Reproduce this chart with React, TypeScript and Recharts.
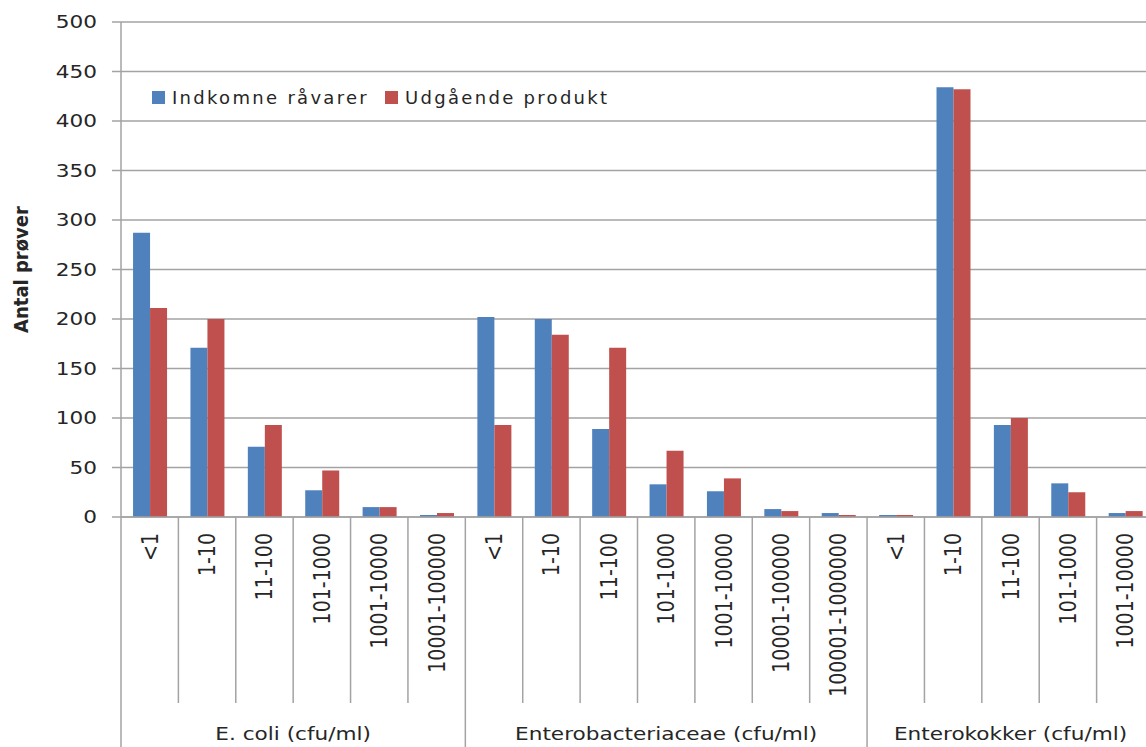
import { BarChart, Bar, XAxis, YAxis, CartesianGrid, Legend } from 'recharts';

const categories = [
  '<1', '1-10', '11-100', '101-1000', '1001-10000', '10001-100000',
  '<1', '1-10', '11-100', '101-1000', '1001-10000', '10001-100000', '100001-1000000',
  '<1', '1-10', '11-100', '101-1000', '1001-10000',
];
const groupNames = ['E. coli (cfu/ml)', 'Enterobacteriaceae (cfu/ml)', 'Enterokokker (cfu/ml)'];
const groupSizes = [6, 7, 5];
const indkomne = [287, 171, 71, 27, 10, 2, 202, 200, 89, 33, 26, 8, 4, 2, 434, 93, 34, 4];
const udgaaende = [211, 200, 93, 47, 10, 4, 93, 184, 171, 67, 39, 6, 2, 2, 432, 100, 25, 6];
const yTicks = [0, 50, 100, 150, 200, 250, 300, 350, 400, 450, 500];

const BLUE = '#4F81BD';
const RED = '#C0504D';
const GRID = '#a3a3a3';
const TEXT = '#262626';
const FONT = '"DejaVu Sans", Verdana, sans-serif';

const W = 1160;
const H = 747;
const MARGIN = { top: 22, right: 6, left: 0, bottom: 0 };
const Y_W = 121;
const X_H = 230;
const BAND = (W - MARGIN.left - MARGIN.right - Y_W) / categories.length;

const data = categories.map((c, i) => ({
  id: `${i}-${c}`,
  label: c,
  a: indkomne[i],
  b: udgaaende[i],
}));

const groupStarts = groupSizes.map((_, g) => groupSizes.slice(0, g).reduce((s, n) => s + n, 0));

// the original is stretched sideways a little, so text gets a 1.2 x-scale
const CategoryTick = (props: any) => {
  const { x, y, index } = props;
  const left = x - BAND / 2;
  const g = groupStarts.indexOf(index);
  const isStart = g >= 0;
  return (
    <g>
      <line x1={left} x2={left} y1={y} y2={isStart ? H : y + 186} stroke={GRID} strokeWidth={1.5} />
      <text
        transform={`translate(${x} ${y + 16}) rotate(-90) scale(1 1.2)`}
        textAnchor="end"
        dy="0.35em"
        fontSize={19}
        fontFamily={FONT}
        fill={TEXT}
      >
        {categories[index]}
      </text>
      {isStart && (
        <text
          transform={`translate(${left + (groupSizes[g] * BAND) / 2} ${H - 7}) scale(1.2 1)`}
          textAnchor="middle"
          fontSize={18}
          fontFamily={FONT}
          fill={TEXT}
        >
          {groupNames[g]}
        </text>
      )}
    </g>
  );
};

const ValueTick = (props: any) => {
  const { x, y, payload } = props;
  return (
    <text transform={`translate(${x} ${y}) scale(1.2 1)`} textAnchor="end" dy="0.36em"
      fontSize={18} fontFamily={FONT} fill={TEXT}>
      {payload.value}
    </text>
  );
};

const LegendContent = () => (
  <div style={{ display: 'flex', alignItems: 'center', fontFamily: FONT, fontSize: 18, letterSpacing: 2.3, color: TEXT, whiteSpace: 'nowrap' }}>
    {[{ c: BLUE, t: 'Indkomne råvarer' }, { c: RED, t: 'Udgående produkt' }].map((it, i) => (
      <div key={i} style={{ display: 'flex', alignItems: 'center', marginRight: 16 }}>
        <span style={{ width: 13, height: 13, background: it.c, display: 'inline-block', marginRight: 7 }} />
        <span>{it.t}</span>
      </div>
    ))}
  </div>
);

const App = () => {
  return (
    <div style={{ position: 'absolute', left: 0, top: 0, width: 1146, height: 747, overflow: 'hidden', background: '#fff' }}>
      <BarChart width={W} height={H} data={data} margin={MARGIN} barCategoryGap="21%" barGap={0}>
        <CartesianGrid vertical={false} stroke={GRID} strokeWidth={1.5} />
        <XAxis
          dataKey="id"
          height={X_H}
          interval={0}
          tickSize={0}
          tickMargin={0}
          tickLine={false}
          axisLine={{ stroke: GRID, strokeWidth: 1.5 }}
          tick={<CategoryTick />}
        />
        <YAxis
          width={Y_W}
          domain={[0, 500]}
          ticks={yTicks}
          interval={0}
          tickSize={9}
          tickMargin={15}
          axisLine={{ stroke: GRID, strokeWidth: 1.5 }}
          tickLine={{ stroke: GRID, strokeWidth: 1.5 }}
          tick={<ValueTick />}
          label={{
            content: (p: any) => {
              const vb = p.viewBox || { y: 22, height: 495 };
              const cy = vb.y + vb.height / 2;
              return (
                <text transform={`translate(21 ${cy}) rotate(-90) scale(1 1.1)`} textAnchor="middle" dy="0.35em"
                  fontSize={18} fontWeight="bold" fontFamily={FONT} fill={TEXT}>
                  Antal prøver
                </text>
              );
            },
          }}
        />
        <Legend
          layout="horizontal"
          verticalAlign="middle"
          align="center"
          wrapperStyle={{ left: 152, top: 87, width: 'auto' }}
          content={<LegendContent />}
        />
        <Bar dataKey="a" name="Indkomne råvarer" fill={BLUE} isAnimationActive={false} />
        <Bar dataKey="b" name="Udgående produkt" fill={RED} isAnimationActive={false} />
      </BarChart>
    </div>
  );
};

export default App;
